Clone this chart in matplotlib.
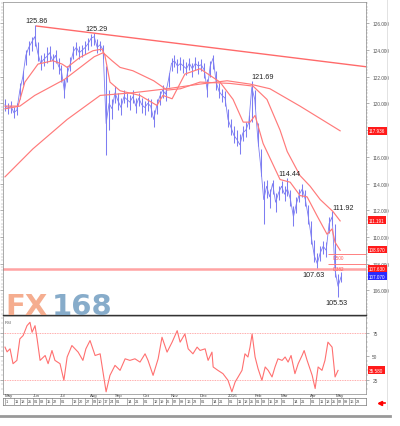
import matplotlib.pyplot as plt
import matplotlib.ticker as mticker
from matplotlib.transforms import blended_transform_factory

plt.rcParams['font.family'] = ['Liberation Sans', 'DejaVu Sans']

# USD/JPY daily, May 2015 - May 2016, sampled every 2-3 sessions
closes = [119.9, 119.6, 119.8, 119.3, 119.5, 121.0, 122.0, 123.6, 124.2, 124.6,
          125.0, 123.8, 123.0, 123.3, 123.5, 123.8, 123.2, 123.6, 122.8, 122.4,
          120.9, 122.3, 123.0, 123.9, 124.2, 123.8, 124.0, 124.2, 124.5, 124.9,
          125.0, 124.2, 124.4, 124.0, 118.5, 120.0, 119.6, 120.8, 120.2, 119.7,
          120.5, 120.3, 120.1, 120.5, 119.8, 120.4, 119.9, 119.7, 120.0, 119.8,
          118.8, 119.8, 120.5, 121.0, 120.7, 121.8, 123.0, 123.2, 122.8, 123.0,
          122.8, 122.6, 123.0, 122.6, 123.0, 122.8, 122.9, 122.5, 121.0, 122.8,
          123.4, 121.6, 120.9, 120.6, 120.4, 118.8, 118.2, 117.6, 117.3, 116.9,
          117.8, 118.0, 118.6, 121.2, 120.3, 117.4, 115.3, 112.8, 113.8, 113.0,
          114.0, 112.6, 113.3, 113.8, 113.2, 113.6, 112.8, 111.5, 112.5, 113.2,
          113.6, 112.8, 111.5, 110.0, 108.6, 108.0, 108.8, 109.3, 109.0, 111.0,
          111.5, 107.5, 106.3, 107.0]
highs = [120.3, 120.0, 120.2, 119.7, 120.0, 121.5, 122.4, 124.0, 124.7, 125.0,
         125.86, 124.6, 123.6, 123.8, 124.2, 124.3, 123.7, 124.0, 123.4, 122.9,
         121.8, 122.8, 123.5, 124.3, 124.6, 124.3, 124.4, 124.7, 124.9, 125.2,
         125.29, 124.8, 124.7, 124.4, 122.8, 121.0, 120.3, 121.3, 120.8, 120.4,
         121.0, 120.8, 120.6, 121.0, 120.4, 120.8, 120.4, 120.2, 120.4, 120.3,
         119.5, 120.3, 120.9, 121.4, 121.2, 122.3, 123.4, 123.6, 123.3, 123.5,
         123.3, 123.1, 123.4, 123.0, 123.5, 123.2, 123.3, 123.0, 121.8, 123.2,
         123.6, 122.4, 121.5, 121.1, 120.9, 119.6, 118.8, 118.3, 118.0, 117.7,
         118.3, 118.6, 119.1, 121.69, 121.0, 118.5, 116.6, 114.2, 114.3, 113.6,
         114.3, 113.3, 113.8, 114.2, 113.8, 114.44, 113.5, 112.3, 113.0, 113.6,
         114.0, 113.5, 112.4, 111.2, 109.8, 108.8, 109.3, 109.7, 109.6, 111.5,
         111.92, 111.0, 107.2, 107.4]
lows = [119.4, 119.2, 119.3, 118.9, 119.1, 120.3, 121.4, 122.9, 123.6, 123.9,
        124.3, 123.2, 122.5, 122.8, 123.0, 123.2, 122.6, 123.0, 122.2, 121.6,
        120.4, 121.6, 122.4, 123.3, 123.6, 123.3, 123.5, 123.7, 124.0, 124.3,
        124.4, 123.8, 123.9, 123.3, 116.1, 118.0, 118.8, 120.0, 119.5, 119.1,
        120.0, 119.7, 119.5, 120.0, 119.3, 119.8, 119.3, 119.1, 119.4, 119.0,
        118.2, 119.2, 119.9, 120.4, 120.2, 121.2, 122.4, 122.7, 122.3, 122.5,
        122.3, 122.1, 122.5, 122.0, 122.5, 122.2, 122.4, 121.9, 120.5, 122.0,
        122.6, 121.0, 120.4, 120.1, 119.8, 118.2, 117.6, 117.0, 116.8, 116.2,
        117.2, 117.5, 118.1, 118.6, 119.6, 116.8, 114.6, 111.0, 112.9, 112.2,
        113.2, 111.9, 112.8, 113.3, 112.7, 113.1, 112.3, 110.8, 111.8, 112.6,
        113.0, 112.3, 111.0, 109.5, 108.1, 107.63, 108.2, 108.7, 108.5, 110.3,
        110.9, 107.0, 105.53, 106.6]

# moving averages (positions in sample units)
ma_fast_x = [0, 4.4, 6.7, 11.1, 16.1, 19.2, 20.9, 25.2, 29.6, 32.6, 33.6, 35.3, 38.7,
             45.4, 51.1, 53.1, 56.2, 60.5, 65.6, 72.3, 76.7, 80.1, 82.4, 84.1, 86.8,
             92.5, 95.9, 99.2, 101.6, 104.9, 108.3, 110.0, 111.0, 112.7]
ma_fast = [119.8, 119.8, 121.6, 122.95, 123.2, 122.95, 122.7, 123.45, 123.95, 124.07,
           123.6, 121.6, 120.95, 120.6, 119.85, 120.6, 120.35, 122.2, 122.6, 121.6,
           120.3, 118.6, 118.6, 119.1, 117.0, 114.3, 114.1, 113.1, 113.0, 111.6,
           110.2, 110.6, 109.6, 109.0]
ma_mid_x = [0, 5, 10, 20, 30, 33, 36, 38.7, 43, 50, 54.5, 59, 65.6, 75.7, 83.4,
            88.1, 92.5, 94.9, 99.2, 102.6, 106, 110.3, 112.7]
ma_mid = [119.6, 119.8, 120.6, 121.8, 123.5, 123.8, 123.2, 122.7, 122.45, 121.7,
          121.0, 121.1, 121.6, 121.5, 121.3, 120.3, 118.0, 116.4, 114.6, 113.8,
          112.8, 111.9, 111.2]
ma_slow_x = [0, 9.4, 20.9, 32, 43, 54.5, 65.6, 74.7, 82.4, 89.1, 99.2, 112.7]
ma_slow = [114.5, 116.6, 118.8, 120.6, 120.8, 121.1, 121.45, 121.7, 121.45, 121.1,
           119.8, 117.95]

trend_x = [10.6, 121.4]
trend_y = [125.8, 122.75]
support = 107.63
fib_levels = [108.73, 107.97]
fib_names = ['0.500', '0.382']
fib_start = 108.6

peaks = [(10, 125.86, '125.86'), (30, 125.29, '125.29'), (83, 121.69, '121.69'),
         (95, 114.44, '114.44'), (110, 111.92, '111.92'),
         (105, 107.63, '107.63'), (112, 105.53, '105.53')]

side_labels = [(117.95, '117.936', '#ff1a1a'), (111.25, '111.191', '#ff1a1a'),
               (109.05, '108.970', '#ff1a1a'), (107.63, '107.630', '#ff1a1a'),
               (107.05, '107.070', '#2a2aff')]
hidden_ticks = [118]

rsi_x = [0, 0.7, 1.7, 2.7, 4.0, 5.0, 6.1, 7.4, 8.4, 9.1, 10.1, 10.8, 11.8, 13.5, 14.5,
         15.8, 16.8, 18.5, 19.8, 20.9, 22.5, 24.6, 26.2, 27.2, 28.6, 30.3, 32, 34,
         35.3, 37, 38.7, 40.4, 42, 43.7, 45.4, 47.1, 48.1, 49.8, 51.5, 52.8, 54.5,
         56.2, 57.9, 58.9, 60.5, 61.6, 63.2, 64.6, 65.6, 67.3, 68.3, 69.6, 70,
         71.6, 73.3, 75, 76.3, 77.4, 78.4, 79.7, 80.7, 81.7, 82.4, 83.1, 84.1, 85.1,
         86.4, 87.5, 88.5, 89.8, 90.8, 91.8, 93.2, 94.2, 95.2, 96.2, 97.5, 98.6,
         99.9, 100.6, 101.6, 103.3, 104.3, 105.3, 106.6, 107.6, 108.6, 110, 111, 112]
rsi_vals = [59.5, 54.5, 57.7, 41.9, 45.4, 68.3, 71.8, 82.3, 85.9, 75.3, 82.3, 68.3,
            45.4, 50.6, 41.9, 55.9, 45.4, 41.9, 24.2, 49, 61.2, 54.2, 45.4, 57.7,
            66.5, 50.6, 52.4, 12, 29.5, 40.1, 34.8, 47.1, 45.4, 47.1, 43.6, 52.4,
            45.4, 29.5, 47.1, 70, 54.2, 64.8, 77, 64.8, 73.5, 57.7, 52.4, 59.5, 56,
            57.7, 45.4, 54.2, 38.4, 34.8, 31.3, 24.2, 12, 22.5, 27.8, 34.8, 52.4, 49,
            59.5, 73.5, 49, 36.6, 24.2, 38.4, 34.8, 27.8, 38.4, 47.1, 45.4, 49, 43.6,
            50.6, 31.3, 41.9, 50.6, 55.9, 45.4, 29.5, 15.5, 38.4, 34.8, 45.4, 64.8,
            59.5, 27.8, 34.8]
rsi_label = '35.580'

months = ['May', 'Jun', 'Jul', 'Aug', 'Sep', 'Oct', 'Nov', 'Dec', '2016',
          'Feb', 'Mar', 'Apr', 'May']
month_start = [0, 9.4, 18.5, 28.6, 37, 46.4, 55.8, 65.6, 75.0, 84.1, 92.8, 102.6, 111.3, 120.4]
month_len = [31, 30, 31, 31, 30, 31, 30, 31, 31, 29, 31, 30, 31]
week_days = [['1', '11', '18', '25'], ['01', '08', '15', '22'], ['01', '13', '20', '27'],
             ['03', '10', '17', '24'], ['01', '14', '21'], ['01', '12', '19', '26'],
             ['02', '09', '16', '23'], ['01', '14', '21'], ['01', '11', '18', '25'],
             ['01', '08', '15', '22'], ['01', '14', '21'], ['01', '11', '18', '25'],
             ['02', '09', '16', '23']]

W, H = 400, 427
xlim = (-0.67, 121.4)
fig = plt.figure(figsize=(4, 4.27), dpi=100)

def box(l, t, r, b):
    return [l / W, 1 - b / H, (r - l) / W, (b - t) / H]

# ---- price panel
ax = fig.add_axes(box(3, 3, 366, 316))
idx = list(range(len(closes)))
blue = '#7d7df2'
ax.vlines(idx, lows, highs, color=blue, lw=0.75)
ax.plot(idx, closes, color=blue, lw=0.6)
ax.plot(ma_fast_x, ma_fast, color='#ff7a7a', lw=0.85)
ax.plot(ma_mid_x, ma_mid, color='#ff7a7a', lw=0.85)
ax.plot(ma_slow_x, ma_slow, color='#ff7a7a', lw=0.85)
ax.plot(trend_x, trend_y, color='#ff6a6a', lw=1.0)
ax.axhline(support, color='#ffa3a3', lw=1.8)
for lv, nm in zip(fib_levels, fib_names):
    ax.hlines(lv, fib_start, xlim[1], color='#ff8080', lw=0.7)
    ax.text(fib_start + 1.5, lv - 0.12, nm, fontsize=3.3, color='#ff5a5a', va='top', ha='left')

for i, p, t in peaks:
    if p in (107.63, 105.53):
        ax.annotate(t, (i, p), xytext=(-3 if p == 107.63 else -1.5, -2), textcoords='offset points',
                    ha='center', va='top', fontsize=5.2, color='#222222')
    elif p in (121.69, 111.92):
        ax.annotate(t, (i, p), xytext=(0, 0.5), textcoords='offset points',
                    ha='left', va='bottom', fontsize=5.2, color='#222222')
    else:
        ax.annotate(t, (i, p), xytext=(1.5, 0.8), textcoords='offset points',
                    ha='center', va='bottom', fontsize=5.2, color='#222222')

ax.set_xlim(*xlim)
ax.set_ylim(104.15, 127.6)
ax.yaxis.tick_right()
ax.yaxis.set_major_locator(mticker.MultipleLocator(2))
ax.yaxis.set_minor_locator(mticker.MultipleLocator(0.25))
ax.yaxis.set_major_formatter(mticker.FuncFormatter(
    lambda v, p: '' if round(v) in hidden_ticks else f'{v:.3f}'))
ax.tick_params(axis='y', which='major', labelsize=3.4, labelcolor='#555555', length=2,
               width=0.4, color='#777777', pad=2.5, left=True)
ax.tick_params(axis='y', which='minor', length=1.2, width=0.3, color='#999999', left=True)
ax.set_xticks([])
for s in ['left', 'right', 'top']:
    ax.spines[s].set_color('#888888')
    ax.spines[s].set_linewidth(0.5)
ax.spines['bottom'].set_color('#333333')
ax.spines['bottom'].set_linewidth(1.0)

tr = blended_transform_factory(ax.transAxes, ax.transData)
for v, t, c in side_labels:
    ax.text(1.008, v, t, transform=tr, fontsize=3.3, color='white', ha='left', va='center',
            bbox=dict(boxstyle='square,pad=0.3', fc=c, ec='none'), clip_on=False)

# ---- RSI panel
ax2 = fig.add_axes(box(3, 317, 366, 394.5))
ax2.plot(rsi_x, rsi_vals, color='#ff7070', lw=0.8)
for lv in (75, 25):
    ax2.axhline(lv, color='#ff8f8f', lw=0.6, ls=(0, (1, 1)))
ax2.set_xlim(*xlim)
ax2.set_ylim(10.2, 92.6)
ax2.yaxis.tick_right()
ax2.set_yticks([25, 50, 75])
ax2.yaxis.set_minor_locator(mticker.MultipleLocator(5))
ax2.tick_params(axis='y', which='major', labelsize=3.4, labelcolor='#555555', length=2,
                width=0.4, color='#777777', pad=2.5, left=True)
ax2.tick_params(axis='y', which='minor', length=1.2, width=0.3, color='#999999', left=True)
ax2.set_xticks([])
for s in ax2.spines.values():
    s.set_color('#888888')
    s.set_linewidth(0.5)
ax2.text(0.005, 0.95, 'RSI', transform=ax2.transAxes, fontsize=3.0, color='#555555', va='top')
tr2 = blended_transform_factory(ax2.transAxes, ax2.transData)
ax2.text(1.008, rsi_vals[-1], rsi_label, transform=tr2, fontsize=3.3, color='white',
         ha='left', va='center', bbox=dict(boxstyle='square,pad=0.3', fc='#ff1a1a', ec='none'),
         clip_on=False)

# ---- date strip
ax3 = fig.add_axes(box(3, 399, 366, 406))
ax3.set_xlim(*xlim)
ax3.set_ylim(0, 1)
ax3.set_xticks([])
ax3.set_yticks([])
for s in ax3.spines.values():
    s.set_color('#777777')
    s.set_linewidth(0.5)
for m, name in enumerate(months):
    x0, x1 = month_start[m], month_start[m + 1]
    ax3.text(x0, 1.15, name, fontsize=3.2, color='#444444', ha='left', va='bottom', clip_on=False)
    for d in week_days[m]:
        pos = x0 + (int(d) - 1) / month_len[m] * (x1 - x0)
        ax3.axvline(pos, color='#777777', lw=0.4)
        ax3.text(pos + 0.25, 0.5, d, fontsize=2.8, color='#444444', ha='left', va='center')

# ---- logo and frame details
fig.text(5 / W, 1 - 315 / H, 'FX', fontsize=21, fontweight='bold', family='DejaVu Sans',
         color='#f4a483', alpha=0.9, ha='left', va='baseline')
fig.text(52 / W, 1 - 315 / H, '168', fontsize=21, fontweight='bold', family='DejaVu Sans',
         color='#7aa3c5', alpha=0.9, ha='left', va='baseline')
fig.add_artist(plt.Line2D([0, 390 / W], [1 - 417 / H] * 2, color='#999999', lw=2))
fig.add_artist(plt.Line2D([387 / W] * 2, [1 - 410 / H, 1], color='#dddddd', lw=0.6))
fig.add_artist(plt.Line2D([380 / W, 385 / W], [1 - 404 / H] * 2, color='#ff0000', lw=1.2))
fig.add_artist(plt.Line2D([380 / W], [1 - 404 / H], marker='<', ms=3, color='#ff0000'))

fig.savefig('out.png', dpi=100, facecolor='white')
